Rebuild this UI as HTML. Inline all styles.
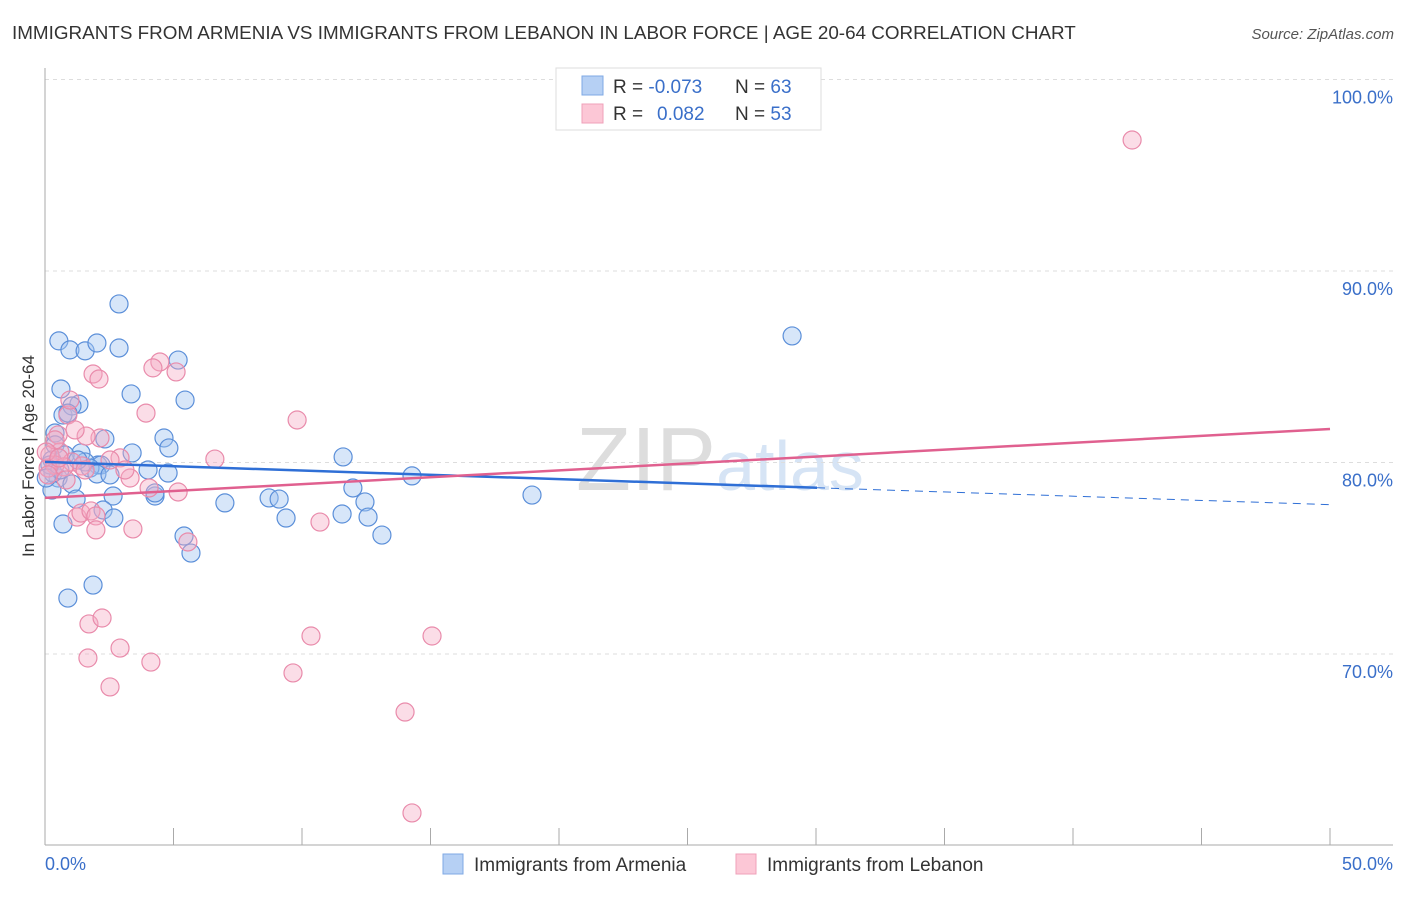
<!DOCTYPE html>
<html><head><meta charset="utf-8"><style>
body{margin:0;background:#fff;font-family:"Liberation Sans",sans-serif}
svg text{font-family:"Liberation Sans",sans-serif}
</style></head><body>
<svg width="1406" height="892">
<text x="12" y="39" font-size="18.85" fill="#333">IMMIGRANTS FROM ARMENIA VS IMMIGRANTS FROM LEBANON IN LABOR FORCE | AGE 20-64 CORRELATION CHART</text>
<text x="1394" y="39" font-size="15" fill="#555" text-anchor="end" font-style="italic">Source: ZipAtlas.com</text>
<text x="720" y="490" font-size="90" fill="#ddd" text-anchor="middle" font-family="Liberation Serif">ZIP<tspan fill="#d6e4f5" font-family="Liberation Sans" font-size="70">atlas</tspan></text>
<g id="grid"></g><g id="marks"></g>
<text transform="translate(34,456) rotate(-90)" font-size="17" fill="#333" text-anchor="middle">In Labor Force | Age 20-64</text>
<g>
<rect x="556" y="68" width="265" height="62" fill="#fff" stroke="#ddd"/>
<rect x="582" y="76" width="21" height="19" fill="#b6d0f4" stroke="#7fa9e4"/>
<rect x="582" y="104" width="21" height="19" fill="#fcc7d6" stroke="#efa0b9"/>
<text x="613" y="93" font-size="19" fill="#333">R = <tspan fill="#3a6fc9">-0.073</tspan><tspan x="735">N = </tspan><tspan fill="#3a6fc9">63</tspan></text>
<text x="613" y="120" font-size="19" fill="#333">R = <tspan x="657" fill="#3a6fc9">0.082</tspan><tspan x="735">N = </tspan><tspan fill="#3a6fc9">53</tspan></text>
</g>
<g>
<rect x="443" y="854" width="20" height="20" fill="#b6d0f4" stroke="#7fa9e4"/>
<text x="474" y="871" font-size="19" fill="#333">Immigrants from Armenia</text>
<rect x="736" y="854" width="20" height="20" fill="#fcc7d6" stroke="#efa0b9"/>
<text x="767" y="871" font-size="19" fill="#333">Immigrants from Lebanon</text>
</g>
</svg>
<script>
const blueX=[2.88,.54,.97,1.56,2.02,2.88,5.18,3.35,.62,5.45,.70,1.32,1.05,.89,4.63,2.33,.39,4.82,3.39,1.40,.39,.27,2.06,2.18,1.56,1.75,4.01,4.79,.51,2.02,1.05,.27,2.65,1.21,4.28,4.28,2.26,2.68,.70,7.00,8.72,9.11,9.38,11.60,11.98,12.45,11.56,12.57,13.11,14.28,18.95,5.41,5.68,1.87,.89,29.07,.31,.19,.58,2.53,.05,.78,1.28];
const blueY=[88.28,86.35,85.88,85.83,86.24,85.98,85.35,83.58,83.84,83.26,82.48,83.05,82.95,82.58,81.28,81.23,81.54,80.76,80.50,80.50,80.92,80.13,79.87,79.87,80.03,79.71,79.61,79.45,79.19,79.40,78.88,78.56,78.25,78.09,78.25,78.41,77.52,77.10,76.79,77.89,78.15,78.09,77.10,80.29,78.67,77.94,77.31,77.15,76.21,79.30,78.30,76.16,75.27,73.60,72.92,86.61,79.45,79.87,79.61,79.35,79.19,80.39,80.13];
const pinkX=[42.30,4.47,4.20,5.10,1.87,2.10,9.81,3.93,.89,.97,.51,2.14,1.60,6.61,2.92,.58,.19,1.05,.39,.74,1.44,.12,3.31,4.05,5.18,1.25,1.40,1.79,1.98,1.98,3.42,5.56,10.70,1.71,2.22,1.67,2.92,4.12,2.53,10.35,9.65,15.06,14.01,14.28,.39,2.53,.82,.05,1.17,1.56,3.11,.54,.12];
const pinkY=[96.84,85.25,84.94,84.73,84.62,84.36,82.22,82.58,82.48,83.26,81.44,81.28,81.38,80.18,80.24,80.55,80.39,80.03,79.87,79.77,79.82,79.71,79.19,78.67,78.46,77.15,77.36,77.47,77.21,76.48,76.53,75.85,76.89,71.57,71.88,69.79,70.31,69.58,68.28,70.94,69.01,70.94,66.97,61.70,81.18,80.13,79.09,80.55,81.70,79.61,79.61,80.24,79.35];
const blueTrend=[80.03,78.68,77.8]; const blueTrendX=[0,30.04,50];
const pinkTrend=[78.15,81.75]; const pinkTrendX=[0,50];
const yTicks=[100,90,80,70]; const yTickLabels=["100.0%","90.0%","80.0%","70.0%"];
const xTicks=[0,5,10,15,20,25,30,35,40,45,50];
const NS="http://www.w3.org/2000/svg";
const sx=v=>45+v*25.7, sy=v=>79.5+(100-v)*19.15;
function mk(t,a,p){const e=document.createElementNS(NS,t);for(const k in a)e.setAttribute(k,a[k]);p.appendChild(e);return e;}
const g=document.getElementById('grid'), m=document.getElementById('marks');
yTicks.forEach((t,i)=>{const l=mk('line',{x1:45,x2:1393,y1:sy(t),y2:sy(t),stroke:'#ddd','stroke-dasharray':'4,4'},g);


const tx=mk('text',{x:1393,y:sy(t)+24,'text-anchor':'end','font-size':18,fill:'#3a6fc9'},g);tx.textContent=yTickLabels[i];

});
const ax=mk('line',{x1:45,x2:45,y1:68,y2:845,stroke:'#aaa'},g);


const bx=mk('line',{x1:45,x2:1393,y1:845,y2:845,stroke:'#aaa'},g);


xTicks.forEach(t=>{const l=mk('line',{x1:sx(t),x2:sx(t),y1:828,y2:845,stroke:'#aaa'},g);

});
[[0,'0.0%','start',45],[50,'50.0%','end',1393]].forEach(d=>{const t=mk('text',{x:d[3],y:870,'text-anchor':d[2],'font-size':18,fill:'#3a6fc9'},g);t.textContent=d[1];

});
function pts(X,Y,fill,stroke,name){X.forEach((x,i)=>{const c=mk('circle',{cx:sx(x),cy:sy(Y[i]),r:9,fill:fill,stroke:stroke,'stroke-width':1.2},m);

});}
pts(blueX,blueY,'rgba(160,196,240,0.42)','#5b8fd9','armenia-point');
pts(pinkX,pinkY,'rgba(246,170,196,0.4)','#e98bab','lebanon-point');
const b1=mk('line',{x1:sx(blueTrendX[0]),y1:sy(blueTrend[0]),x2:sx(blueTrendX[1]),y2:sy(blueTrend[1]),stroke:'#2f6fd6','stroke-width':2.5},m);


const b2=mk('line',{x1:sx(blueTrendX[1]),y1:sy(blueTrend[1]),x2:sx(blueTrendX[2]),y2:sy(blueTrend[2]),stroke:'#2f6fd6','stroke-width':1,'stroke-dasharray':'8,6'},m);


const p1=mk('line',{x1:sx(pinkTrendX[0]),y1:sy(pinkTrend[0]),x2:sx(pinkTrendX[1]),y2:sy(pinkTrend[1]),stroke:'#e0608f','stroke-width':2.5},m);


</script>
</body></html>
